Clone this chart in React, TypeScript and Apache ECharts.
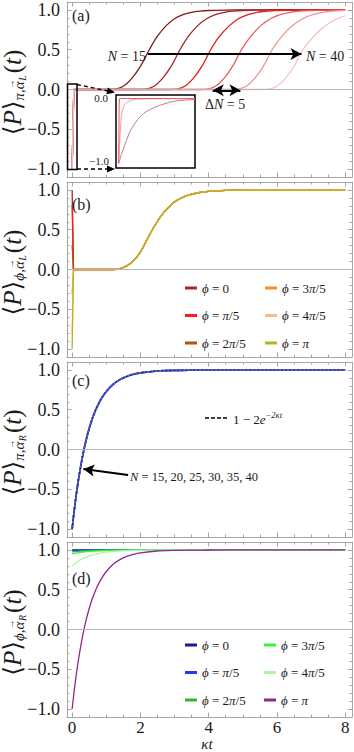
import React, { useEffect, useRef } from 'react';
import * as echarts from 'echarts';

// ---------- tick values ----------
const xMajorTicks = [0, 2, 4, 6, 8];
const xMinorTicks = [0, 0.5, 1, 1.5, 2, 2.5, 3, 3.5, 4, 4.5, 5, 5.5, 6, 6.5, 7, 7.5, 8];
const yMajorTicks = [-1, -0.5, 0, 0.5, 1];
const yMinorTicks = [-1, -0.9, -0.8, -0.7, -0.6, -0.5, -0.4, -0.3, -0.2, -0.1, 0, 0.1, 0.2, 0.3, 0.4, 0.5, 0.6, 0.7, 0.8, 0.9, 1];

// ---------- panel (a): N = 15 ... 40 ----------
const nValues = [15, 20, 25, 30, 35, 40];
const dropA = [[0, -1], [0.05, 0]];
const curveN15 = [[0.05, 0], [1.0, 0], [1.25, 0.004], [1.5, 0.04], [1.75, 0.14], [2.0, 0.29], [2.26, 0.5], [2.5, 0.67], [2.75, 0.8], [3.0, 0.89], [3.25, 0.94], [3.5, 0.97], [3.75, 0.985], [4.0, 0.993], [4.5, 0.999], [5.0, 1], [8.0, 1]];
const curveN20 = [[0.05, 0], [1.9, 0], [2.15, 0.004], [2.4, 0.04], [2.65, 0.14], [2.9, 0.29], [3.16, 0.5], [3.41, 0.67], [3.67, 0.8], [3.94, 0.89], [4.2, 0.94], [4.46, 0.97], [4.72, 0.985], [4.99, 0.993], [5.51, 0.999], [6.0, 1], [8.0, 1]];
const curveN25 = [[0.05, 0], [2.8, 0], [3.05, 0.004], [3.3, 0.04], [3.55, 0.14], [3.8, 0.29], [4.06, 0.5], [4.32, 0.67], [4.6, 0.8], [4.87, 0.89], [5.15, 0.94], [5.42, 0.97], [5.7, 0.985], [5.97, 0.993], [6.52, 0.999], [7.0, 1], [8.0, 1]];
const curveN30 = [[0.05, 0], [3.7, 0], [3.95, 0.004], [4.2, 0.04], [4.45, 0.14], [4.7, 0.29], [4.96, 0.5], [5.24, 0.67], [5.52, 0.8], [5.81, 0.89], [6.1, 0.94], [6.39, 0.97], [6.67, 0.985], [6.96, 0.993], [7.54, 0.999], [8.0, 1]];
const curveN35 = [[0.05, 0], [4.6, 0], [4.85, 0.004], [5.1, 0.04], [5.35, 0.14], [5.6, 0.29], [5.86, 0.5], [6.15, 0.67], [6.45, 0.8], [6.75, 0.89], [7.05, 0.94], [7.35, 0.97], [7.65, 0.985], [7.95, 0.993], [8.0, 0.994]];
const curveN40 = [[0.05, 0], [5.5, 0], [5.75, 0.004], [6.0, 0.04], [6.25, 0.14], [6.5, 0.29], [6.76, 0.5], [7.08, 0.67], [7.42, 0.8], [7.76, 0.89], [8.0, 0.925]];
const curvesA = [curveN15, curveN20, curveN25, curveN30, curveN35, curveN40];

// inset of panel (a): initial decay, magnified (x in fractions of inset window)
const insetDark = [[0.02, -1], [0.06, -0.84], [0.1, -0.71], [0.14, -0.58], [0.18, -0.47], [0.26, -0.33], [0.34, -0.23], [0.47, -0.14], [0.59, -0.087], [0.75, -0.038], [1.0, -0.014]];
const insetMid = [[0.02, -1], [0.04, -0.5], [0.06, -0.23], [0.1, -0.087], [0.18, -0.029], [0.26, -0.005], [1.0, 0]];
const insetLight = [[0.02, -1], [0.025, -0.1], [0.03, 0], [1.0, 0]];

// ---------- panel (b): phi values ----------
const phiNames = ['0', 'π/5', '2π/5', '3π/5', '4π/5', 'π'];
const phiInitB = [1, 0.81, 0.31, -0.31, -0.81, -1];
const curveB = [[0.04, 0], [1.2, 0], [1.4, 0.012], [1.6, 0.045], [1.8, 0.11], [2.0, 0.22], [2.2, 0.38], [2.35, 0.5], [2.6, 0.67], [2.8, 0.77], [3.0, 0.85], [3.2, 0.9], [3.4, 0.935], [3.7, 0.965], [4.0, 0.982], [4.5, 0.994], [5.0, 0.998], [6.0, 1], [8.0, 1]];

// ---------- panel (c): 1 - 2 e^{-2 kappa t} ----------
const cT = [0, 0.05, 0.1, 0.15, 0.2, 0.3, 0.4, 0.5, 0.6, 0.7, 0.8, 0.9, 1.0, 1.2, 1.4, 1.6, 1.8, 2.0, 2.5, 3.0, 3.5, 4.0, 5.0, 6.0, 8.0];
const cV = [-1, -0.81, -0.637, -0.482, -0.341, -0.098, 0.101, 0.264, 0.398, 0.507, 0.596, 0.669, 0.729, 0.819, 0.878, 0.918, 0.945, 0.963, 0.987, 0.995, 0.998, 0.9993, 1, 1, 1];

// ---------- panel (d) ----------
const dT = [0, 0.25, 0.5, 0.75, 1, 1.5, 2, 3, 4, 8];
const dPhi0 = [1, 1, 1, 1, 1, 1, 1, 1, 1, 1];
const dPhi1 = [0.995, 0.997, 0.998, 0.999, 0.999, 1, 1, 1, 1, 1];
const dPhi2 = [0.975, 0.985, 0.991, 0.994, 0.997, 0.999, 1, 1, 1, 1];
const dPhi3 = [0.95, 0.97, 0.982, 0.989, 0.993, 0.998, 0.999, 1, 1, 1];
const dPhi4 = [0.8, 0.879, 0.926, 0.955, 0.973, 0.99, 0.996, 0.9995, 1, 1];

// ---------- styles / layout ----------
const SERIF = "'Liberation Serif', 'Times New Roman', 'DejaVu Serif', serif";
const TEXT = '#1a1a1a';
const FRAME = '#a6a6a6';
const ZERO = '#b5b5b5';
const aColors = ['#7d1c1c', '#a82424', '#dd1c1c', '#ec5a5a', '#f39494', '#f8c4c4'];
const bColors = ['#b22222', '#ff1a1a', '#b3530f', '#ff8c1a', '#ffba80', '#b5b51f'];
const dColors = ['#1c1c8a', '#1a3cff', '#2db82d', '#3cf03c', '#a8f7a8', '#8f278f'];
const insetColors = ['#bb8080', '#f2a0a0', '#ee5555'];

const PANEL_TOPS = [2, 182, 362, 542];
const PANEL_H = 175;
const GRID_LEFT = 67;
const GRID_W = 285;
const X_MIN = -0.15, X_MAX = 8.2, Y_MIN = -1.1, Y_MAX = 1.1;

const fmtY = (v: number) => (v < 0 ? '\u2212' : '') + Math.abs(v).toFixed(1);

function arrowHead(x1: number, y1: number, x2: number, y2: number, len = 8, hw = 3.5) {
  const dx = x2 - x1, dy = y2 - y1, L = Math.hypot(dx, dy);
  const ux = dx / L, uy = dy / L;
  const bx = x2 - ux * len, by = y2 - uy * len;
  return [[x2, y2], [bx - uy * hw, by + ux * hw], [bx + uy * hw, by - ux * hw]];
}

let measureCtx: CanvasRenderingContext2D | null = null;
function textWidth(text: string, font: string) {
  if (!measureCtx) measureCtx = document.createElement('canvas').getContext('2d');
  if (!measureCtx) return text.length * 8;
  measureCtx.font = font;
  return measureCtx.measureText(text).width;
}

// rotated y-axis title: <P>_{sym, alpha-vec_{side}}(t)
function yTitle(cx: number, cy: number, sym: string, side: string) {
  const big = `25px ${SERIF}`, bigI = `italic 25px ${SERIF}`;
  const sub = `italic 15px ${SERIF}`, ss = `italic 10px ${SERIF}`;
  const pieces: [string, string, number][] = [
    ['⟨', big, 0], ['P', bigI, 0], ['⟩', big, 0],
    [sym + ',', sub, 7], ['α', sub, 7], [side, ss, 10],
    ['(', big, 0], ['t', bigI, 0], [')', big, 0],
  ];
  const widths = pieces.map(([t, f]) => textWidth(t, f) + (f === sub && t === 'α' ? 0.5 : 0));
  const total = widths.reduce((a, b) => a + b, 0) + 2;
  let cur = -total / 2;
  const children: any[] = [];
  pieces.forEach(([t, f, dy], i) => {
    if (i === 6) cur += 2;
    children.push({ type: 'text', x: cur, y: dy, style: { text: t, font: f, fill: TEXT, align: 'left', verticalAlign: 'middle' } });
    if (t === 'α') {
      children.push({ type: 'text', x: cur + widths[i] / 2 + 1, y: dy - 8, style: { text: '→', font: `9px ${SERIF}`, fill: TEXT, align: 'center', verticalAlign: 'middle' } });
    }
    cur += widths[i];
  });
  return { type: 'group', x: cx, y: cy, rotation: Math.PI / 2, z: 50, children };
}

function buildOption() {
  const grid: any[] = PANEL_TOPS.map((t) => ({ left: GRID_LEFT, top: t, width: GRID_W, height: PANEL_H }));
  grid.push({ left: 116, top: 95, width: 79, height: 73, show: true, backgroundColor: '#fff', borderColor: '#000', borderWidth: 1.5 });

  const xAxis: any[] = [];
  const yAxis: any[] = [];
  for (let p = 0; p < 4; p++) {
    const xb = { gridIndex: p, type: 'value', min: X_MIN, max: X_MAX, splitLine: { show: false } };
    const tickStyle = { color: FRAME, width: 1 };
    xAxis.push(
      { ...xb, position: 'bottom', axisLine: { show: true, onZero: false, lineStyle: { color: FRAME } },
        axisTick: { show: true, inside: true, length: 4.5, customValues: xMajorTicks, lineStyle: tickStyle },
        axisLabel: p === 3 ? { show: true, customValues: xMajorTicks, fontFamily: SERIF, fontSize: 17, color: TEXT, margin: 2 } : { show: false } },
      { ...xb, position: 'bottom', axisLine: { show: false, onZero: false },
        axisTick: { show: true, inside: true, length: 2.5, customValues: xMinorTicks, lineStyle: tickStyle }, axisLabel: { show: false } },
      { ...xb, position: 'top', axisLine: { show: true, onZero: false, lineStyle: { color: FRAME } },
        axisTick: { show: true, inside: true, length: 4.5, customValues: xMajorTicks, lineStyle: tickStyle }, axisLabel: { show: false } },
      { ...xb, position: 'top', axisLine: { show: false, onZero: false },
        axisTick: { show: true, inside: true, length: 2.5, customValues: xMinorTicks, lineStyle: tickStyle }, axisLabel: { show: false } },
    );
    const yb = { gridIndex: p, type: 'value', min: Y_MIN, max: Y_MAX, splitLine: { show: false } };
    yAxis.push(
      { ...yb, position: 'left', axisLine: { show: true, onZero: false, lineStyle: { color: FRAME } },
        axisTick: { show: true, inside: true, length: 4.5, customValues: yMajorTicks, lineStyle: tickStyle },
        axisLabel: { show: true, customValues: yMajorTicks, formatter: fmtY, fontFamily: SERIF, fontSize: 18, color: TEXT, margin: 7 } },
      { ...yb, position: 'left', axisLine: { show: false, onZero: false },
        axisTick: { show: true, inside: true, length: 2.5, customValues: yMinorTicks, lineStyle: tickStyle }, axisLabel: { show: false } },
      { ...yb, position: 'right', axisLine: { show: true, onZero: false, lineStyle: { color: FRAME } },
        axisTick: { show: true, inside: true, length: 4.5, customValues: yMajorTicks, lineStyle: tickStyle }, axisLabel: { show: false } },
      { ...yb, position: 'right', axisLine: { show: false, onZero: false },
        axisTick: { show: true, inside: true, length: 2.5, customValues: yMinorTicks, lineStyle: tickStyle }, axisLabel: { show: false } },
    );
  }
  xAxis.push({ gridIndex: 4, type: 'value', min: -0.015, max: 1, show: false });
  yAxis.push({ gridIndex: 4, type: 'value', min: -1.07, max: 0.055, show: false });

  const line = (name: string, data: any[], color: string, p: number, extra: any = {}) => ({
    type: 'line', name, data, xAxisIndex: p === 4 ? 16 : 4 * p, yAxisIndex: p === 4 ? 16 : 4 * p,
    symbol: 'none', showSymbol: false, silent: true, smooth: false,
    lineStyle: { width: 1.3, color }, itemStyle: { color }, z: 3, ...extra,
  });

  const zeroLine = [{ coord: [X_MIN, 0], symbol: 'none', lineStyle: { color: ZERO, width: 1, type: 'solid' } }, { coord: [X_MAX, 0], symbol: 'none' }];
  const mk = (data: any[]) => ({ silent: true, animation: false, label: { show: false }, symbolSize: [9, 11], lineStyle: { color: '#000', width: 2, type: 'solid' }, data });

  const series: any[] = [];
  // panel a
  curvesA.forEach((c, k) => {
    const name = 'N' + nValues[k];
    series.push(line(name, dropA, aColors[k], 0, k === 0 ? {
      markLine: mk([
        zeroLine,
        [{ coord: [2.22, 0.447], symbol: 'none', lineStyle: { color: '#000', width: 2 } }, { coord: [6.72, 0.447], symbol: 'arrow' }],
        [{ coord: [4.12, -0.01], symbol: 'arrow', lineStyle: { color: '#000', width: 2 } }, { coord: [4.93, -0.01], symbol: 'arrow' }],
      ]),
    } : {}));
    series.push(line(name, c, aColors[k], 0, { smooth: 0.35 }));
  });
  series.push(line('insetDark', insetDark, insetColors[0], 4, { smooth: 0.3, z: 10, lineStyle: { width: 1, color: insetColors[0] } }));
  series.push(line('insetMid', insetMid, insetColors[1], 4, { smooth: 0.3, z: 10, lineStyle: { width: 1, color: insetColors[1] } }));
  series.push(line('insetLight', insetLight, insetColors[2], 4, { z: 10, lineStyle: { width: 1, color: insetColors[2] } }));

  // panel b
  phiInitB.forEach((v0, k) => {
    series.push(line('b' + k, [[0, v0], curveB[0]], bColors[k], 1, k === 0 ? { markLine: mk([zeroLine]) } : {}));
  });
  phiInitB.forEach((_, k) => {
    series.push(line('b' + k, curveB, bColors[k], 1, { smooth: 0.35 }));
  });

  // panel c
  const cData = cT.map((t, i) => [t, cV[i]]);
  nValues.forEach((n, k) => {
    series.push(line('cN' + n, cData, '#5a64e0', 2, { smooth: 0.3, lineStyle: { width: 1.6, color: '#5a64e0' },
      ...(k === 0 ? { markLine: mk([zeroLine, [{ coord: [1.64, -0.32], symbol: 'none', lineStyle: { color: '#000', width: 2 } }, { coord: [0.33, -0.245], symbol: 'arrow' }]]) } : {}) }));
  });
  series.push(line('cFit', cData, '#000', 2, { smooth: 0.3, lineStyle: { width: 1, color: '#1a1a1a', type: [2, 2] } }));

  // panel d
  const dSets = [dPhi0, dPhi1, dPhi2, dPhi3, dPhi4];
  dSets.forEach((vals, k) => {
    series.push(line('d' + k, dT.map((t, i) => [t, vals[i]]), dColors[k], 3, { smooth: 0.3, ...(k === 0 ? { markLine: mk([zeroLine]) } : {}) }));
  });
  series.push(line('d5', cData, dColors[5], 3, { smooth: 0.3 }));

  // legends
  const labelOf: Record<string, string> = {};
  const phiRich = ['{i|ϕ} = 0', '{i|ϕ} = {i|π}/5', '{i|ϕ} = 2{i|π}/5', '{i|ϕ} = 3{i|π}/5', '{i|ϕ} = 4{i|π}/5', '{i|ϕ} = {i|π}'];
  phiNames.forEach((_, k) => { labelOf['b' + k] = phiRich[k]; labelOf['d' + k] = phiRich[k]; });
  const legendBase = {
    orient: 'vertical', icon: 'rect', itemWidth: 12, itemHeight: 3, itemGap: 14.5, padding: 0, selectedMode: false,
    textStyle: { fontFamily: SERIF, fontSize: 13, color: TEXT, rich: { i: { fontFamily: SERIF, fontSize: 13, fontStyle: 'italic', color: TEXT } } },
    formatter: (n: string) => labelOf[n] || n,
  };
  const legend = [
    { ...legendBase, left: 185, top: 281.5, data: ['b0', 'b1', 'b2'] },
    { ...legendBase, left: 265, top: 281.5, data: ['b3', 'b4', 'b5'] },
    { ...legendBase, left: 185, top: 638.5, data: ['d0', 'd1', 'd2'] },
    { ...legendBase, left: 264, top: 638.5, data: ['d3', 'd4', 'd5'] },
  ];

  // graphics
  const g: any[] = [];
  const subs = [['π', 'L'], ['ϕ', 'L'], ['π', 'R'], ['ϕ', 'R']];
  PANEL_TOPS.forEach((t, p) => g.push(yTitle(12, t + PANEL_H / 2 + 3, subs[p][0], subs[p][1])));
  const panelLabelY = [15, 204, 380, 578];
  ['(a)', '(b)', '(c)', '(d)'].forEach((s, p) => {
    g.push({ type: 'text', x: 72, y: panelLabelY[p], z: 50, style: { text: s, font: `16px ${SERIF}`, fill: TEXT, align: 'left', verticalAlign: 'middle' } });
  });
  const itRich = { i: { fontFamily: SERIF, fontStyle: 'italic', fontSize: 14, fill: TEXT, color: TEXT } };
  g.push({ type: 'text', x: 146, y: 56, z: 50, style: { text: '{i|N} = 15', rich: itRich, font: `14px ${SERIF}`, fill: TEXT, align: 'right', verticalAlign: 'middle' } });
  g.push({ type: 'text', x: 306, y: 56, z: 50, style: { text: '{i|N} = 40', rich: itRich, font: `14px ${SERIF}`, fill: TEXT, align: 'left', verticalAlign: 'middle' } });
  g.push({ type: 'text', x: 205, y: 104, z: 50, style: { text: 'Δ{i|N} = 5', rich: itRich, font: `14px ${SERIF}`, fill: TEXT, align: 'left', verticalAlign: 'middle' } });
  // inset markers
  g.push({ type: 'rect', z: 60, shape: { x: 67.5, y: 84, width: 9.5, height: 85.5 }, style: { fill: 'none', stroke: '#000', lineWidth: 1.5 } });
  g.push({ type: 'line', z: 60, shape: { x1: 77, y1: 84.5, x2: 108, y2: 91 }, style: { stroke: '#000', lineWidth: 1.3, lineDash: [4, 3] } });
  g.push({ type: 'polygon', z: 60, shape: { points: arrowHead(77, 84.5, 115, 92.5) }, style: { fill: '#000' } });
  g.push({ type: 'line', z: 60, shape: { x1: 77, y1: 169, x2: 108, y2: 169 }, style: { stroke: '#000', lineWidth: 1.3, lineDash: [4, 3] } });
  g.push({ type: 'polygon', z: 60, shape: { points: arrowHead(77, 169, 115, 169) }, style: { fill: '#000' } });
  g.push({ type: 'text', x: 108, y: 98, z: 60, style: { text: '0.0', font: `11px ${SERIF}`, fill: TEXT, align: 'right', verticalAlign: 'middle' } });
  g.push({ type: 'text', x: 109, y: 161, z: 60, style: { text: '\u22121.0', font: `11px ${SERIF}`, fill: TEXT, align: 'right', verticalAlign: 'middle' } });
  // panel c legend + annotation
  g.push({ type: 'line', z: 60, shape: { x1: 205, y1: 418, x2: 228, y2: 418 }, style: { stroke: '#000', lineWidth: 1.6, lineDash: [4, 2] } });
  g.push({
    type: 'text', x: 233, y: 418, z: 60,
    style: {
      text: '{n|1 − 2}{i|e}{s|−2κt}', align: 'left', verticalAlign: 'middle', fill: TEXT,
      rich: {
        n: { fontFamily: SERIF, fontSize: 13, lineHeight: 16, verticalAlign: 'bottom', fill: TEXT },
        i: { fontFamily: SERIF, fontSize: 13, lineHeight: 16, fontStyle: 'italic', verticalAlign: 'bottom', fill: TEXT },
        s: { fontFamily: SERIF, fontSize: 8.5, lineHeight: 9, fontStyle: 'italic', verticalAlign: 'top', fill: TEXT },
      },
    },
  });
  g.push({ type: 'text', x: 130, y: 477, z: 60, style: { text: '{i|N} = 15, 20, 25, 30, 35, 40', rich: { i: { fontFamily: SERIF, fontStyle: 'italic', fontSize: 12.5, fill: TEXT } }, font: `12.5px ${SERIF}`, fill: TEXT, align: 'left', verticalAlign: 'middle' } });
  // x-axis name
  g.push({ type: 'text', x: 207, y: 744, z: 60, style: { text: 'κt', font: `italic 15px ${SERIF}`, fill: TEXT, align: 'center', verticalAlign: 'middle' } });

  return { animation: false, backgroundColor: '#fff', grid, xAxis, yAxis, series, legend, graphic: g };
}

export default function App() {
  const ref = useRef<HTMLDivElement>(null);
  useEffect(() => {
    document.body.style.margin = '0';
    const chart = echarts.init(ref.current!, undefined, { renderer: 'svg' });
    chart.setOption(buildOption() as any);
    return () => chart.dispose();
  }, []);
  return <div ref={ref} style={{ width: 354, height: 752 }} />;
}
